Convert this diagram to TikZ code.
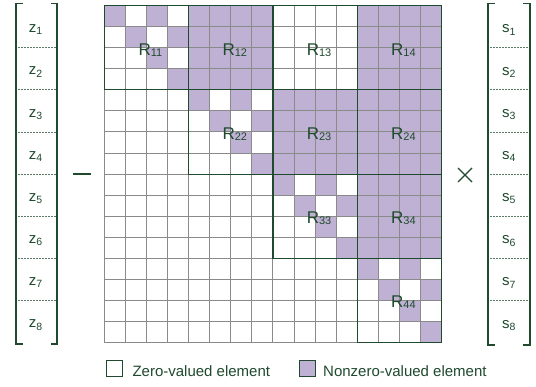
\documentclass[tikz,border=0pt]{standalone}
\usepackage{fontspec}
\setmainfont{Liberation Sans}
\definecolor{dg}{HTML}{1F4A2E}
\definecolor{pur}{RGB}{191,177,211}
\definecolor{gr}{HTML}{8A8A8A}
\definecolor{dsh}{HTML}{5A7A65}
\newcommand{\Rlab}[1]{R\raisebox{-1pt}{\fontsize{11}{12}\selectfont #1}}
\newcommand{\vlab}[2]{#1\raisebox{-2.3pt}{\fontsize{10.5}{12}\selectfont #2}}
\begin{document}
\begin{tikzpicture}[x=1pt,y=-1pt,
  rlab/.style={text=dg,font=\fontsize{17}{18}\selectfont,anchor=base,inner sep=0pt},
  vl/.style={text=dg,font=\fontsize{15}{18}\selectfont,anchor=base,inner sep=0pt},
  leg/.style={text=dg,font=\fontsize{15}{18}\selectfont,anchor=base west,inner sep=0pt},
  gridline/.style={gr,line width=1pt},
  blockline/.style={dg,line width=1.2pt},
  brack/.style={dg,line width=1.3pt},
  sep/.style={dsh,line width=0.8pt,dash pattern=on 2pt off 1pt},
  legbox/.style={draw=dg,line width=0.8pt}]
\useasboundingbox (0,0) rectangle (536,386);
\fill[white] (0,0) rectangle (536,386);
% matrix
\begin{scope}[shift={(104.3,5.5)},x=21.08pt,y=-21.08pt]
  \foreach \bi/\bj in {0/1,0/3,1/2,1/3,2/3}{
    \fill[pur] (4*\bj,4*\bi) rectangle ++(4,4);
  }
  \foreach \b in {0,...,3}{
    \foreach \r in {0,...,3}{
      \fill[pur] (4*\b+\r,4*\b+\r) rectangle ++(1,1);
      \ifnum\r<2 \fill[pur] (4*\b+\r+2,4*\b+\r) rectangle ++(1,1); \fi
    }}
  \foreach \i in {0,...,16}{
    \draw[gridline] (\i,0) -- (\i,16);
    \draw[gridline] (0,\i) -- (16,\i);
  }
  \foreach \bi in {0,...,3}{
    \foreach \bj in {0,...,3}{
      \ifnum\bi>\bj \else \draw[blockline] (4*\bj,4*\bi) rectangle ++(4,4); \fi
    }}
\end{scope}
% block labels
\node[rlab] (R11) at (150.5,55.7) {\Rlab{11}};
\node[rlab] (R12) at (234.8,55.7) {\Rlab{12}};
\node[rlab] (R13) at (319.1,55.7) {\Rlab{13}};
\node[rlab] (R14) at (403.4,55.7) {\Rlab{14}};
\node[rlab] (R22) at (234.8,139.5) {\Rlab{22}};
\node[rlab] (R23) at (319.1,139.5) {\Rlab{23}};
\node[rlab] (R24) at (403.4,139.5) {\Rlab{24}};
\node[rlab] (R33) at (319.1,223.5) {\Rlab{33}};
\node[rlab] (R34) at (403.4,223.5) {\Rlab{34}};
\node[rlab] (R44) at (403.4,307.5) {\Rlab{44}};
% left vector z
\draw[brack] (23,3.3) -- (16,3.3) -- (16,344) -- (23,344);
\draw[brack] (51,3.3) -- (57,3.3) -- (57,344) -- (51,344);
\foreach \k in {1,...,7}{
  \draw[sep] (18,5.5+42.16*\k) -- (56,5.5+42.16*\k);
  \draw[sep] (490,5.5+42.16*\k) -- (529,5.5+42.16*\k);
}
\foreach \k in {1,...,8}{
  \node[vl] (z\k) at (35.5,5.5+42.16*\k-42.16/2+6.1) {\vlab{z}{\k}};
  \node[vl] (s\k) at (508.8,5.5+42.16*\k-42.16/2+6.4) {\vlab{s}{\k}};
}
% right vector s
\draw[brack] (495,3.3) -- (488,3.3) -- (488,345) -- (495,345);
\draw[brack] (523,3.3) -- (530,3.3) -- (530,345) -- (523,345);
% operators
\coordinate (m1) at (73,174);
\coordinate (m2) at (91,174);
\draw[dg,line width=1.5pt] (m1) -- (m2);
\coordinate (t1) at (458,168);
\coordinate (t2) at (472,182);
\coordinate (t3) at (458,182);
\coordinate (t4) at (472,168);
\draw[dg,line width=1.2pt] (t1) -- (t2) (t3) -- (t4);
% legend
\draw[legbox,fill=white] (106,360.7) rectangle (122.7,376.7);
\node[leg] (l1) at (132.3,376.3) {Zero-valued element};
\draw[legbox,fill=pur] (299,360.7) rectangle (315.7,376.7);
\node[leg] (l2) at (323,376.3) {Nonzero-valued element};
\end{tikzpicture}
\end{document}
